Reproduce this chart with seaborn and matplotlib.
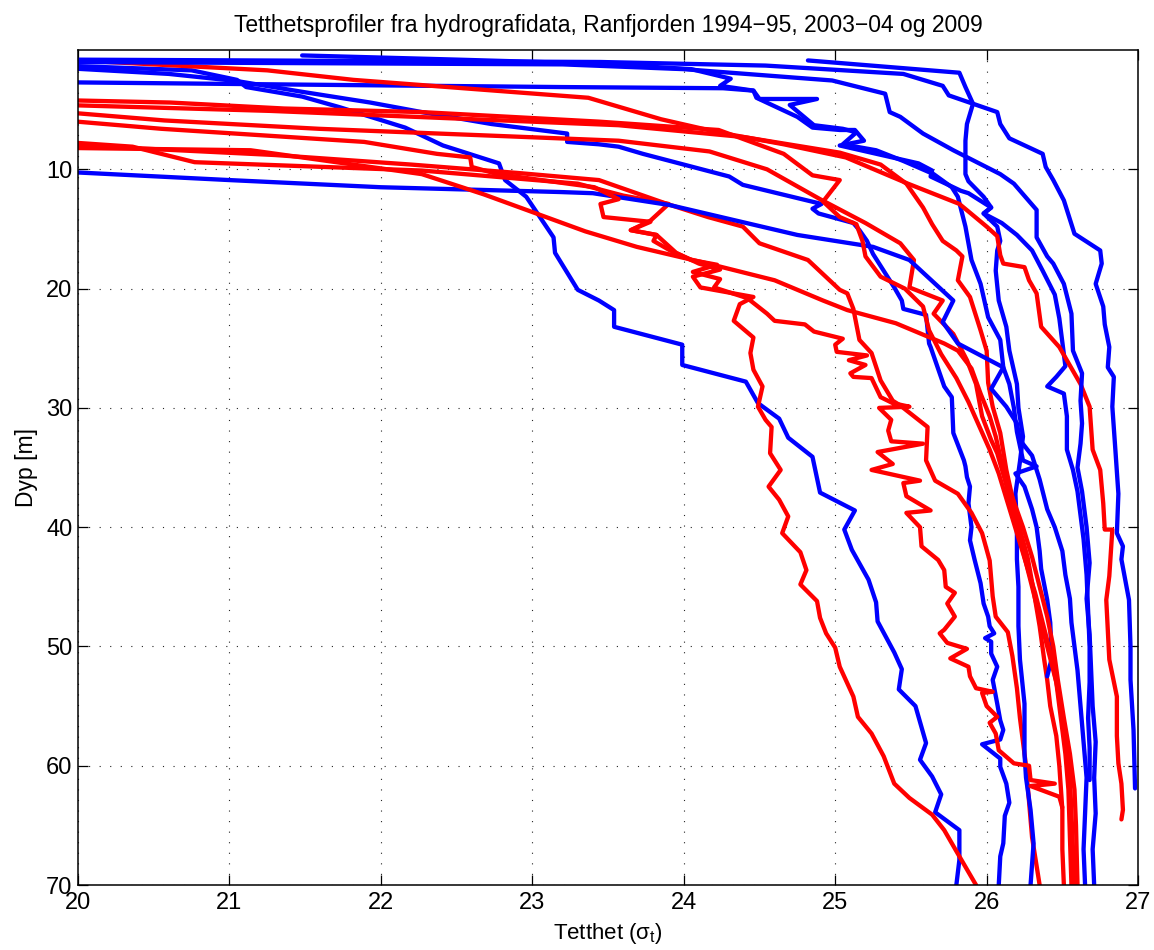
import matplotlib
matplotlib.use("Agg")
import matplotlib.pyplot as plt
import seaborn as sns
import pandas as pd

# Density profiles (sigma-t, depth in m) as (density, depth) pairs
blue_1 = [(19.9, 1.3), (20.75, 1.7), (21.05, 2.5), (21.11, 3.1), (21.48, 3.9), (21.73, 4.8), (22.16, 6.5),
          (22.41, 8.0), (22.78, 9.5), (22.82, 10.9), (22.96, 12.3), (23.14, 15.7), (23.15, 17.0), (23.30, 20.1),
          (23.44, 21.0), (23.54, 21.8), (23.54, 23.2), (23.99, 24.7), (23.99, 26.4), (24.41, 27.8), (24.49, 29.6),
          (24.63, 30.9), (24.69, 32.5), (24.85, 34.1), (24.90, 37.1), (25.13, 38.6), (25.06, 40.2), (25.11, 41.9),
          (25.22, 44.4), (25.27, 46.3), (25.28, 47.9), (25.39, 50.5), (25.44, 51.9), (25.42, 53.6), (25.53, 55.0),
          (25.60, 58.1), (25.56, 59.5), (25.64, 60.9), (25.70, 62.4), (25.66, 63.9), (25.82, 65.4), (25.82, 67.9),
          (25.80, 70.0)]
blue_2 = [(19.9, 1.5), (20.6, 2.0), (21.05, 2.6), (21.48, 3.5), (21.93, 4.4), (22.27, 5.2), (22.73, 6.2),
          (23.23, 7.0), (23.23, 7.7), (23.44, 7.9), (23.57, 8.1), (23.73, 8.7), (24.30, 10.6), (24.39, 11.3),
          (24.91, 12.9), (24.85, 13.3), (24.89, 13.7), (25.12, 14.5), (25.16, 15.1), (25.21, 16.0), (25.25, 17.1),
          (25.32, 18.5), (25.39, 19.9), (25.44, 21.0), (25.45, 21.7), (25.60, 22.2), (25.62, 24.6), (25.63, 24.9),
          (25.72, 28.2), (25.77, 29.1), (25.78, 32.1), (25.85, 34.4), (25.86, 34.9), (25.87, 35.8), (25.89, 36.6),
          (25.88, 38.0), (25.90, 40.0), (25.89, 41.1), (25.92, 42.7), (25.96, 44.7), (25.98, 46.4), (26.01, 47.5),
          (26.02, 48.3), (26.05, 48.9), (25.99, 49.3), (26.03, 49.6), (26.03, 50.6), (26.07, 51.7), (26.04, 52.8),
          (26.07, 54.8), (26.09, 56.2), (26.11, 57.0), (26.09, 57.8), (25.97, 58.2), (26.09, 59.4), (26.09, 60.1),
          (26.13, 61.5), (26.15, 63.1), (26.12, 64.2), (26.11, 66.5), (26.09, 67.6), (26.08, 70.0)]
blue_3 = [(21.48, 0.45), (22.5, 0.8), (23.45, 1.15), (24.05, 1.6), (24.31, 2.4), (24.24, 3.0), (24.46, 3.4),
          (24.48, 4.0), (24.75, 5.6), (24.85, 6.5), (25.03, 6.7), (25.13, 6.7), (25.19, 7.6), (25.03, 8.0),
          (25.55, 9.5), (25.64, 10.1), (25.63, 10.6), (25.83, 11.8), (25.88, 12.0), (26.03, 13.2), (25.98, 13.7),
          (26.07, 14.8), (26.09, 16.0), (26.07, 16.8), (26.06, 18.5), (26.08, 21.0), (26.13, 23.2), (26.15, 25.2),
          (26.20, 28.0), (26.21, 30.0), (26.24, 32.4), (26.22, 34.5), (26.19, 37.2), (26.20, 40.0), (26.20, 42.7),
          (26.21, 45.0), (26.21, 48.3), (26.22, 51.1), (26.25, 54.8), (26.25, 59.0), (26.26, 61.0), (26.29, 63.7),
          (26.31, 66.5), (26.29, 70.0)]
blue_4 = [(19.9, 2.7), (21.5, 2.9), (23.18, 3.1), (24.26, 3.2), (24.46, 3.4), (24.50, 4.1), (24.88, 4.1),
          (24.70, 4.6), (24.86, 6.3), (25.05, 6.6), (25.14, 6.9), (25.05, 7.9), (25.27, 8.4), (25.45, 9.3),
          (25.65, 10.4), (25.77, 11.5), (25.81, 12.3), (25.86, 14.8), (25.90, 17.6), (25.96, 19.6), (26.01, 22.4),
          (26.09, 24.3), (26.11, 26.6), (26.15, 28.0), (26.18, 30.0), (26.20, 32.0), (26.24, 34.4), (26.33, 34.9),
          (26.19, 35.5), (26.25, 36.6), (26.30, 38.5), (26.33, 40.0), (26.35, 42.0), (26.36, 43.5), (26.40, 46.1),
          (26.42, 48.0), (26.43, 51.0), (26.40, 52.5)]
blue_5 = [(19.9, 10.2), (21.0, 10.9), (22.0, 11.5), (23.18, 11.9), (23.40, 12.0), (23.91, 13.0), (24.75, 15.5),
          (25.25, 16.5), (25.49, 17.6), (25.78, 21.0), (25.71, 22.8), (25.81, 24.6), (26.11, 26.6), (26.03, 28.4),
          (26.13, 29.9), (26.20, 31.3), (26.22, 32.7), (26.30, 34.0), (26.35, 36.0), (26.40, 38.5), (26.45, 40.0),
          (26.50, 42.0), (26.52, 44.0), (26.55, 46.0), (26.56, 48.0), (26.58, 50.0), (26.60, 52.0), (26.62, 55.0),
          (26.64, 58.0), (26.66, 61.0), (26.65, 64.0), (26.64, 67.0), (26.65, 70.0)]
blue_6 = [(24.82, 0.87), (25.82, 1.9), (25.86, 3.1), (25.91, 4.5), (25.87, 6.2), (25.86, 7.6), (25.86, 10.4),
          (25.88, 11.0), (25.98, 12.3), (26.03, 13.2), (25.98, 13.7), (26.10, 14.5), (26.20, 15.5), (26.30, 16.8),
          (26.37, 18.5), (26.45, 20.5), (26.48, 22.5), (26.50, 24.5), (26.52, 26.5), (26.46, 27.4), (26.40, 28.2),
          (26.51, 28.8), (26.53, 30.7), (26.53, 33.5), (26.57, 35.2), (26.60, 37.0), (26.62, 39.0), (26.64, 41.0),
          (26.66, 44.0), (26.67, 47.0), (26.68, 50.0), (26.68, 53.0), (26.67, 56.0), (26.68, 58.5), (26.68, 61.2)]
blue_7 = [(19.9, 1.0), (23.2, 1.2), (24.0, 1.6), (24.98, 2.55), (25.33, 3.66), (25.36, 5.2), (25.43, 5.6),
          (25.58, 7.0), (25.78, 8.4), (26.09, 10.4), (26.18, 11.2), (26.33, 13.4), (26.33, 15.7), (26.40, 17.3),
          (26.44, 17.9), (26.51, 19.6), (26.56, 22.1), (26.57, 25.2), (26.63, 27.1), (26.62, 29.4), (26.63, 31.3),
          (26.62, 33.0), (26.60, 35.0), (26.63, 37.0), (26.66, 40.0), (26.68, 43.0), (26.66, 46.0), (26.68, 49.0),
          (26.69, 52.0), (26.70, 55.0), (26.72, 58.0), (26.71, 61.0), (26.72, 64.0), (26.70, 67.0), (26.71, 70.0)]
blue_8 = [(19.9, 0.8), (23.45, 1.0), (24.54, 1.3), (25.45, 2.0), (25.71, 3.0), (25.75, 3.8), (26.07, 5.2),
          (26.09, 6.2), (26.15, 7.4), (26.37, 8.7), (26.39, 9.8), (26.44, 10.9), (26.51, 12.6), (26.58, 15.4),
          (26.75, 16.8), (26.76, 17.9), (26.72, 19.6), (26.77, 21.5), (26.78, 23.0), (26.81, 24.9), (26.80, 26.6),
          (26.84, 27.4), (26.83, 29.9), (26.85, 33.5), (26.87, 37.2), (26.86, 40.5), (26.90, 41.6), (26.89, 42.7),
          (26.94, 46.1), (26.95, 50.0), (26.95, 52.8), (26.97, 57.0), (26.98, 61.9)]

red_1 = [(19.9, 7.7), (20.36, 8.1), (20.77, 9.4), (22.27, 10.1), (23.3, 11.2), (23.6, 12.2), (23.9, 12.9),
         (23.78, 14.3), (23.65, 15.1), (23.82, 15.5), (23.95, 17.0), (24.10, 17.9), (24.24, 18.4), (24.06, 19.0),
         (24.11, 19.9), (24.46, 20.7), (24.37, 21.3), (24.33, 22.7), (24.46, 24.1), (24.44, 25.4), (24.46, 26.8),
         (24.52, 28.2), (24.49, 29.9), (24.54, 31.0), (24.58, 31.6), (24.57, 33.8), (24.64, 35.2), (24.56, 36.6),
         (24.63, 37.7), (24.69, 39.1), (24.65, 40.5), (24.77, 42.1), (24.81, 43.6), (24.77, 44.8), (24.88, 46.2),
         (24.90, 47.6), (24.94, 48.9), (25.00, 50.1), (25.03, 51.7), (25.12, 54.2), (25.15, 55.9), (25.24, 57.3),
         (25.32, 59.2), (25.39, 61.5), (25.49, 62.7), (25.64, 64.1), (25.72, 65.4), (25.82, 67.6), (25.93, 70.0)]
red_2 = [(19.9, 7.9), (20.5, 8.3), (21.3, 8.8), (22.2, 9.6), (22.9, 10.3), (23.44, 10.9), (23.89, 12.9),
         (24.16, 14.0), (24.39, 14.8), (24.50, 16.2), (24.82, 17.6), (25.03, 20.1), (25.08, 20.4), (25.12, 21.7),
         (25.16, 24.3), (25.24, 25.4), (25.30, 27.7), (25.38, 29.4), (25.43, 29.8), (25.61, 31.6), (25.60, 34.4),
         (25.66, 36.1), (25.81, 37.2), (25.90, 38.8), (25.97, 40.5), (26.02, 42.8), (26.04, 45.8), (26.06, 47.5),
         (26.14, 48.8), (26.17, 50.8), (26.20, 53.5), (26.22, 56.0), (26.24, 58.0), (26.26, 60.0), (26.28, 63.0),
         (26.30, 66.0), (26.35, 70.0)]
red_3 = [(19.9, 4.6), (21.27, 5.1), (23.57, 6.3), (24.4, 7.3), (25.03, 8.6), (25.3, 9.6), (25.47, 11.2),
         (25.58, 13.2), (25.64, 14.6), (25.71, 16.0), (25.80, 16.8), (25.84, 17.3), (25.81, 19.3), (25.89, 20.7),
         (25.96, 23.5), (26.00, 25.2), (26.01, 27.9), (26.04, 29.9), (26.09, 32.1), (26.13, 35.2), (26.17, 37.5),
         (26.22, 40.2), (26.27, 42.5), (26.31, 45.3), (26.35, 48.3), (26.38, 51.1), (26.40, 52.8), (26.42, 55.0),
         (26.46, 57.5), (26.48, 60.0), (26.50, 63.7), (26.50, 67.0), (26.51, 70.0)]
red_4 = [(19.9, 5.2), (20.57, 5.9), (21.59, 6.6), (23.57, 7.6), (24.17, 8.5), (24.55, 10.0), (24.9, 12.5),
         (25.2, 14.5), (25.43, 16.2), (25.52, 17.6), (25.49, 19.9), (25.71, 21.0), (25.65, 22.1), (25.78, 23.8),
         (25.87, 26.0), (25.93, 28.0), (25.97, 30.7), (26.03, 32.7), (26.07, 33.8), (26.12, 36.0), (26.17, 38.5),
         (26.22, 41.0), (26.27, 43.5), (26.32, 46.0), (26.37, 48.5), (26.42, 51.0), (26.46, 53.0), (26.49, 55.0),
         (26.53, 58.0), (26.55, 61.0), (26.56, 64.0), (26.57, 67.0), (26.58, 70.0)]
red_5 = [(19.9, 8.2), (21.14, 8.4), (22.27, 10.4), (22.68, 12.1), (23.35, 15.2), (23.69, 16.5), (24.16, 17.9),
         (24.60, 19.3), (24.92, 21.0), (25.08, 21.8), (25.40, 22.9), (25.72, 24.6), (25.81, 25.2), (25.90, 26.7),
         (25.96, 28.8), (26.02, 30.7), (26.06, 32.4), (26.11, 35.2), (26.17, 37.5), (26.24, 40.0), (26.30, 42.5),
         (26.35, 45.0), (26.40, 47.5), (26.44, 50.0), (26.47, 52.8), (26.51, 56.0), (26.55, 59.0), (26.58, 62.0),
         (26.59, 65.0), (26.60, 70.0)]
red_6 = [(19.9, 0.8), (21.25, 1.7), (21.82, 2.5), (23.37, 4.0), (23.85, 5.8), (24.23, 6.9), (24.66, 7.9),
         (25.07, 9.0), (25.48, 11.2), (25.82, 12.9), (26.00, 14.8), (26.07, 15.6), (26.09, 17.2), (26.11, 17.9),
         (26.25, 18.2), (26.28, 19.3), (26.33, 20.4), (26.36, 23.2), (26.48, 24.9), (26.62, 28.0), (26.68, 29.9),
         (26.70, 33.5), (26.75, 35.2), (26.77, 38.0), (26.78, 40.2), (26.83, 40.2), (26.81, 44.1), (26.79, 46.1),
         (26.81, 51.1), (26.86, 54.2), (26.86, 57.5), (26.87, 59.8), (26.89, 61.5), (26.90, 63.7), (26.89, 64.5)]
red_7 = [(19.9, 4.2), (20.61, 4.4), (21.36, 4.9), (22.27, 5.2), (23.44, 6.0), (24.23, 6.7), (24.66, 8.7),
         (24.85, 10.5), (25.03, 10.9), (24.92, 12.7), (25.03, 14.0), (25.14, 14.6), (25.18, 16.0), (25.20, 17.3),
         (25.30, 19.0), (25.46, 20.0), (25.58, 21.5), (25.62, 23.5), (25.70, 25.5), (25.80, 27.5), (25.88, 29.5),
         (25.95, 31.5), (26.02, 33.5), (26.08, 35.5), (26.14, 38.0), (26.20, 40.5), (26.26, 43.0), (26.32, 45.5),
         (26.37, 48.0), (26.42, 50.5), (26.46, 53.0), (26.49, 56.0), (26.52, 59.0), (26.54, 62.0), (26.55, 66.0),
         (26.56, 70.0)]
red_8 = [(19.9, 5.9), (20.55, 6.6), (21.89, 7.7), (22.37, 8.7), (22.59, 9.0), (22.60, 9.8), (22.77, 10.4),
         (23.41, 11.5), (23.57, 12.5), (23.45, 12.9), (23.47, 14.0), (23.78, 14.4), (23.65, 15.1), (23.82, 15.5),
         (23.80, 16.0), (23.91, 16.8), (24.05, 17.6), (24.22, 18.0), (24.06, 18.6), (24.24, 19.2), (24.20, 19.9),
         (24.42, 20.8), (24.55, 22.1), (24.60, 22.7), (24.80, 23.0), (24.86, 23.6), (25.05, 24.2), (25.00, 24.7),
         (25.01, 25.3), (25.21, 25.6), (25.09, 26.0), (25.20, 26.4), (25.10, 27.1), (25.12, 27.4), (25.24, 27.5),
         (25.30, 29.1), (25.38, 29.6), (25.49, 29.9), (25.29, 30.0), (25.37, 31.0), (25.35, 31.9), (25.37, 32.8),
         (25.58, 33.0), (25.28, 33.7), (25.38, 34.7), (25.24, 35.2), (25.56, 36.1), (25.45, 36.3), (25.47, 37.4),
         (25.63, 38.6), (25.47, 38.8), (25.56, 40.0), (25.57, 41.6), (25.68, 42.75), (25.72, 43.6), (25.73, 45.0),
         (25.79, 45.5), (25.74, 46.4), (25.79, 47.5), (25.72, 48.6), (25.69, 48.9), (25.74, 49.7), (25.87, 50.2),
         (25.76, 51.0), (25.88, 51.7), (25.89, 52.5), (25.93, 53.5), (26.04, 53.8), (25.97, 53.9), (26.00, 55.0),
         (26.07, 55.9), (26.02, 56.4), (26.06, 57.3), (26.08, 58.7), (26.18, 59.8), (26.28, 60.0), (26.29, 61.2),
         (26.45, 61.5), (26.29, 61.7), (26.48, 62.6), (26.50, 63.5)]

profiles = [
    ("blue", blue_1), ("red", red_1), ("blue", blue_2), ("red", red_2), ("blue", blue_3), ("red", red_3),
    ("blue", blue_4), ("red", red_4), ("blue", blue_5), ("red", red_5), ("blue", blue_6), ("red", red_6),
    ("blue", blue_7), ("red", red_7), ("blue", blue_8), ("red", red_8),
]

x_ticks = [20, 21, 22, 23, 24, 25, 26, 27]
y_ticks = [10, 20, 30, 40, 50, 60, 70]
title = "Tetthetsprofiler fra hydrografidata, Ranfjorden 1994\u221295, 2003\u221204 og 2009"
x_label = "Tetthet (\u03c3$_{\\mathregular{t}}$)"
y_label = "Dyp [m]"

colors = {"blue": "#0000ff", "red": "#ff0000"}

rows = []
for i, (grp, pts) in enumerate(profiles):
    for order, (dens, dep) in enumerate(pts):
        rows.append({"profile": i, "group": grp, "order": order, "density": dens, "depth": dep})
df = pd.DataFrame(rows)

sns.set_style("ticks")
plt.rcParams["font.family"] = ["Liberation Sans", "DejaVu Sans"]
plt.rcParams["mathtext.fontset"] = "custom"
plt.rcParams["mathtext.rm"] = "Liberation Sans"
for key in ("text.color", "axes.labelcolor", "xtick.color", "ytick.color", "axes.edgecolor"):
    plt.rcParams[key] = "black"

fig = plt.figure(figsize=(11.54, 9.50), dpi=100)
ax = fig.add_axes([0.0676, 0.0684, 0.9186, 0.8789])

for i, (grp, _) in enumerate(profiles):
    sub = df[df["profile"] == i]
    sns.lineplot(data=sub, x="density", y="depth", sort=False, estimator=None,
                 color=colors[grp], linewidth=3.1, ax=ax, legend=False)

ax.set_xlim(20, 27)
ax.set_ylim(70, 0)
ax.set_xticks(x_ticks)
ax.set_yticks(y_ticks)
ax.set_xticklabels([str(t) for t in x_ticks], fontsize=17)
ax.set_yticklabels([str(t) for t in y_ticks], fontsize=17)
ax.grid(True, which="major", linestyle=(0, (1, 8.5)), color="0.15", linewidth=0.8)
ax.tick_params(direction="in", length=7, width=0.9, top=True, right=True, colors="black")
ax.tick_params(axis="x", pad=5)
ax.tick_params(axis="y", pad=4)
for sp in ax.spines.values():
    sp.set_visible(True)
    sp.set_linewidth(1.1)
    sp.set_color("black")

ax.set_title(title, fontsize=16.5, pad=13, color="black")
ax.set_xlabel(x_label, fontsize=16, labelpad=5, color="black")
ax.set_ylabel(y_label, fontsize=16.5, labelpad=6, color="black")

fig.savefig("out.png", dpi=100, facecolor="white")
